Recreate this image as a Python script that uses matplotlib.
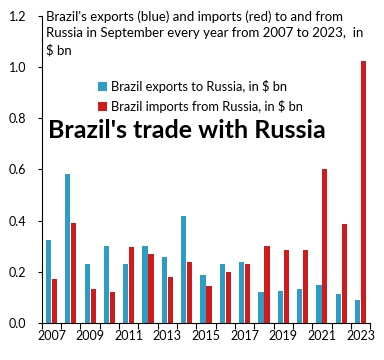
import numpy as np
import matplotlib
matplotlib.use('Agg')
import matplotlib.pyplot as plt

plt.rcParams['font.family'] = ['Lato', 'DejaVu Sans']

# September values, $ bn
years = list(range(2007, 2024))
exports = [0.325, 0.583, 0.229, 0.30, 0.23, 0.302, 0.258, 0.416, 0.186,
           0.232, 0.24, 0.12, 0.126, 0.131, 0.15, 0.112, 0.088]
imports = [0.17, 0.392, 0.134, 0.12, 0.295, 0.27, 0.178, 0.237, 0.143,
           0.198, 0.232, 0.30, 0.284, 0.284, 0.60, 0.385, 1.025]

blue = '#2E9DC6'
red = '#CF1B1B'

fig = plt.figure(figsize=(3.84, 3.6), dpi=100)
ax = fig.add_axes([0.109, 0.103, 0.855, 0.853])

x = np.arange(len(years))
w = 0.27
ax.bar(x - w / 2 - 0.02, exports, width=w, color=blue, label='Brazil exports to Russia, in $ bn')
ax.bar(x + w / 2 + 0.02, imports, width=w, color=red, label='Brazil imports from Russia, in $ bn')

ax.set_xlim(-0.5, len(years) - 0.5)
ax.set_ylim(0, 1.2)
ax.set_yticks(np.arange(0, 1.21, 0.2))
ax.set_yticklabels([f'{v:.1f}' for v in np.arange(0, 1.21, 0.2)], fontsize=9)

# tick marks between categories, labels every other year
ax.set_xticks(np.arange(-0.5, len(years), 1))
ax.set_xticklabels([])
ax.set_xticks(x[::2], minor=True)
ax.set_xticklabels([str(y) for y in years[::2]], minor=True, fontsize=9)
ax.tick_params(axis='x', which='minor', length=0, pad=5)
ax.tick_params(axis='x', which='major', length=4, direction='out')
ax.tick_params(axis='y', length=3, direction='out', pad=8)

for s in ['top', 'right']:
    ax.spines[s].set_visible(False)

fig.text(0.12, 0.97, "Brazil's exports (blue) and imports (red) to and from\n"
         "Russia in September every year from 2007 to 2023,  in\n$ bn",
         fontsize=9.5, va='top', ha='left', linespacing=1.4)

ax.legend(loc='upper left', bbox_to_anchor=(0.135, 0.83), frameon=False,
          fontsize=9.3, handlelength=0.7, handleheight=0.7, handletextpad=0.3,
          labelspacing=0.55)

fig.text(0.125, 0.638, "Brazil's trade with Russia", fontsize=18,
         fontweight='bold', va='center', ha='left')

fig.savefig('out.png', dpi=100)
